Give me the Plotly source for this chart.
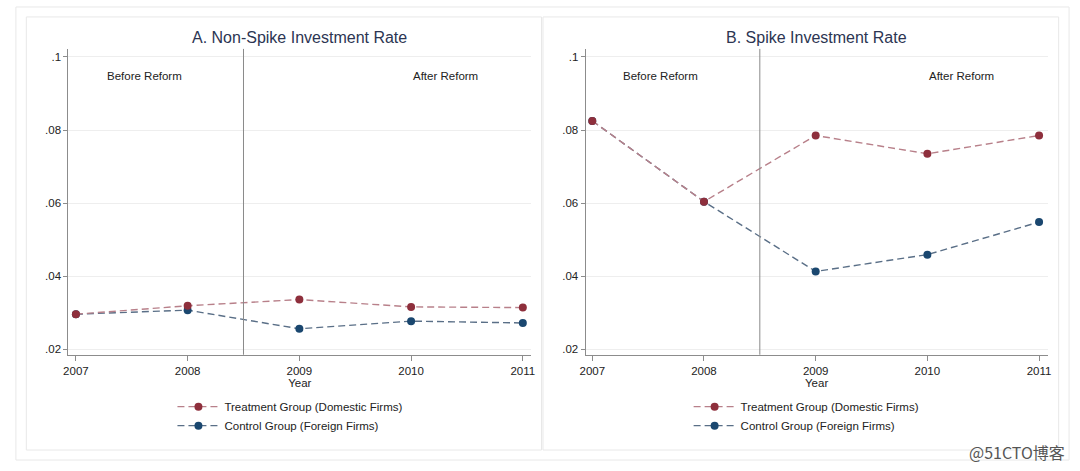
import plotly.graph_objects as go

years = [2007, 2008, 2009, 2010, 2011]
a_treat = [0.0296, 0.0319, 0.0336, 0.0316, 0.0314]
a_ctrl = [0.0296, 0.0307, 0.0256, 0.0277, 0.0272]
b_treat = [0.0825, 0.0604, 0.0785, 0.0735, 0.0785]
b_ctrl = [0.0825, 0.0604, 0.0413, 0.0459, 0.0548]
ytick_vals = [0.02, 0.04, 0.06, 0.08, 0.1]
ytick_text = [".02", ".04", ".06", ".08", ".1"]
reform_cut = 2008.5
panel_titles = ["A. Non-Spike Investment Rate", "B. Spike Investment Rate"]
treat_name = "Treatment Group (Domestic Firms)"
ctrl_name = "Control Group (Foreign Firms)"

W, H = 1080, 471
FONT = "Liberation Sans, Arial, Helvetica, sans-serif"
TREAT_LINE = "#b8808a"
TREAT_MARK = "#8e2f3c"
CTRL_LINE = "#5a6f87"
CTRL_MARK = "#1a476f"
AXIS = "#8c8c8c"

def px(x):
    return x / W

def py(y):
    return 1 - y / H

fig = go.Figure()

panels = [
    dict(xa="x", ya="y", leg="legend", treat=a_treat, ctrl=a_ctrl),
    dict(xa="x2", ya="y2", leg="legend2", treat=b_treat, ctrl=b_ctrl),
]
for p in panels:
    fig.add_trace(go.Scatter(
        x=years, y=p["ctrl"], name=ctrl_name, mode="lines+markers",
        xaxis=p["xa"], yaxis=p["ya"], legend=p["leg"], legendrank=2,
        line=dict(color=CTRL_LINE, width=1.4, dash="7px,4px"),
        marker=dict(color=CTRL_MARK, size=8),
    ))
    fig.add_trace(go.Scatter(
        x=years, y=p["treat"], name=treat_name, mode="lines+markers",
        xaxis=p["xa"], yaxis=p["ya"], legend=p["leg"], legendrank=1,
        line=dict(color=TREAT_LINE, width=1.4, dash="7px,4px"),
        marker=dict(color=TREAT_MARK, size=8),
    ))

xcommon = dict(
    tickvals=years, ticktext=[str(y) for y in years],
    showline=True, linecolor=AXIS, linewidth=1, ticks="outside", ticklen=5,
    tickcolor=AXIS, showgrid=False, zeroline=False,
    tickfont=dict(size=11.5, color="#222222", family=FONT),
    title=dict(text="Year", font=dict(size=11.5, color="#222222", family=FONT), standoff=2),
)
ycommon = dict(
    tickvals=ytick_vals, ticktext=ytick_text, range=[0.0185, 0.1022],
    showline=True, linecolor=AXIS, linewidth=1, ticks="outside", ticklen=4,
    tickcolor=AXIS, showgrid=True, gridcolor="#eeeeee", gridwidth=1, zeroline=False,
    tickfont=dict(size=11.5, color="#222222", family=FONT),
)
ydom = [py(355.5), py(49)]

legend_font = dict(size=11.5, color="#222222", family=FONT)
fig.update_layout(
    width=W, height=H,
    margin=dict(l=0, r=0, t=0, b=0),
    paper_bgcolor="white", plot_bgcolor="white",
    font=dict(family=FONT, color="#222222"),
    xaxis=dict(domain=[px(63), px(530)], range=[2006.933, 2011.074], anchor="y", **xcommon),
    yaxis=dict(domain=ydom, anchor="x", **ycommon),
    xaxis2=dict(domain=[px(585), px(1051.4)], range=[2006.94, 2011.077], anchor="y2", **xcommon),
    yaxis2=dict(domain=ydom, anchor="x2", **ycommon),
    legend=dict(x=px(168), y=py(393), xanchor="left", yanchor="top", itemwidth=42,
                font=legend_font, bgcolor="rgba(0,0,0,0)", tracegroupgap=0, traceorder="normal"),
    legend2=dict(x=px(689), y=py(393), xanchor="left", yanchor="top", itemwidth=42,
                 font=legend_font, bgcolor="rgba(0,0,0,0)", tracegroupgap=0, traceorder="normal"),
    showlegend=True,
)

shapes = [
    dict(type="rect", xref="paper", yref="paper", x0=px(10), x1=px(1073), y0=py(461), y1=py(7),
         line=dict(color="#e8e8e8", width=1), layer="below"),
    dict(type="rect", xref="paper", yref="paper", x0=px(20.5), x1=px(540.5), y0=py(451), y1=py(17),
         line=dict(color="#e8e8e8", width=1), layer="below"),
    dict(type="rect", xref="paper", yref="paper", x0=px(542), x1=px(1062.5), y0=py(451), y1=py(17),
         line=dict(color="#e8e8e8", width=1), layer="below"),
]
annotations = []
for i, (xa, ya) in enumerate([("x", "y"), ("x2", "y2")]):
    shapes.append(dict(type="line", xref=xa, yref=ya + " domain", x0=reform_cut, x1=reform_cut,
                       y0=0, y1=1, line=dict(color="#8a8a8a", width=1)))
    annotations.append(dict(text=panel_titles[i], xref=xa + " domain", yref="paper", x=0.5, y=py(38),
                            showarrow=False, xanchor="center", yanchor="middle",
                            font=dict(size=16, color="#2c3552", family=FONT)))
    annotations.append(dict(text="Before Reform", xref=xa, yref=ya, x=2007.61, y=0.0949,
                            showarrow=False, font=dict(size=11.5, color="#222222", family=FONT)))
    annotations.append(dict(text="After Reform", xref=xa, yref=ya, x=2010.31, y=0.0949,
                            showarrow=False, font=dict(size=11.5, color="#222222", family=FONT)))

annotations.append(dict(text="@51CTO博客", xref="paper", yref="paper", x=px(1071), y=py(453),
                        xanchor="right", yanchor="middle", showarrow=False,
                        font=dict(size=16, color="#555555", family="Noto Sans CJK SC, sans-serif")))
fig.update_layout(shapes=shapes, annotations=annotations)

fig.write_html("out.html", config={"displayModeBar": False},
               post_script="document.body.style.margin='0';document.body.style.overflow='hidden';")
